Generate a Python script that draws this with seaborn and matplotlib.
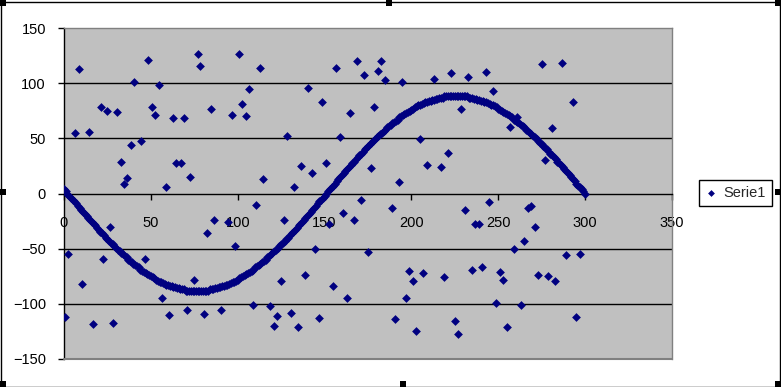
import matplotlib
matplotlib.use("Agg")
import matplotlib.pyplot as plt
from matplotlib.patches import Rectangle
import seaborn as sns
import pandas as pd

# ---- data: sine-like curve ----
curve_x = list(range(0, 301))
curve_y = [4, 2,
    0, -2, -4, -6, -7, -9, -11, -13, -15, -17,
    -19, -20, -22, -24, -26, -28, -29, -31, -33, -35,
    -36, -38, -40, -41, -43, -45, -46, -48, -49, -51,
    -52, -54, -55, -57, -58, -60, -61, -62, -64, -65,
    -66, -67, -69, -70, -71, -72, -73, -74, -75, -76,
    -77, -78, -79, -80, -80, -81, -82, -83, -83, -84,
    -84, -85, -85, -86, -86, -87, -87, -87, -88, -88,
    -88, -88, -88, -88, -88, -88, -88, -88, -88, -88,
    -88, -88, -87, -87, -87, -86, -86, -85, -85, -84,
    -84, -83, -83, -82, -81, -80, -80, -79, -78, -77,
    -76, -75, -74, -73, -72, -71, -70, -69, -67, -66,
    -65, -64, -62, -61, -60, -58, -57, -55, -54, -52,
    -51, -49, -48, -46, -45, -43, -41, -40, -38, -36,
    -35, -33, -31, -29, -28, -26, -24, -22, -20, -19,
    -17, -15, -13, -11, -9, -7, -6, -4, -2, 0,
    2, 4, 6, 7, 9, 11, 13, 15, 17,
    19, 20, 22, 24, 26, 28, 29, 31, 33, 35,
    36, 38, 40, 41, 43, 45, 46, 48, 49, 51,
    52, 54, 55, 57, 58, 60, 61, 62, 64, 65,
    66, 67, 69, 70, 71, 72, 73, 74, 75, 76,
    77, 78, 79, 80, 80, 81, 82, 83, 83, 84,
    84, 85, 85, 86, 86, 87, 87, 87, 88, 88,
    88, 88, 88, 88, 88, 88, 88, 88, 88, 88,
    88, 88, 87, 87, 87, 86, 86, 85, 85, 84,
    84, 83, 83, 82, 81, 80, 80, 79, 78, 77,
    76, 75, 74, 73, 72, 71, 70, 69, 67, 66,
    65, 64, 62, 61, 60, 58, 57, 55, 54, 52,
    51, 49, 48, 46, 45, 43, 41, 40, 38, 36,
    35, 33, 31, 29, 28, 26, 24, 22, 20, 19,
    17, 15, 13, 11, 9, 7, 6, 4, 2, 0]

# ---- data: scattered points ----
scatter_x = [8.8, 6.5, 14.6, 21.1, 24.9, 30.7, 32.6, 38.7, 36.4, 34.7,
             40.5, 44.5, 48.5, 50.8, 52.6, 54.9, 58.9, 62.9, 64.7, 67.2,
             68.9, 72.7, 77.0, 78.5, 84.8, 96.9, 100.9, 102.6, 105.0, 106.7,
             113.0, 114.7, 156.8, 168.9, 172.9, 182.7, 181.0, 185.0, 194.8, 213.2,
             223.0, 232.6, 140.6, 148.7, 164.7, 178.6, 128.6, 159.1, 205.1, 228.7,
             221.2, 132.6, 136.6, 143.0, 151.0, 176.9, 193.0, 209.2, 217.2, 243.1,
             275.4, 286.9, 247.2, 293.2, 261.0, 257.0, 281.1, 277.1,
             2.5, 0.8, 10.6, 16.9, 22.6, 26.7, 28.4, 46.8, 56.6, 60.6,
             71.0, 75.0, 80.8, 82.5, 86.5, 90.6, 94.6, 98.6, 109.0, 110.7,
             126.8, 152.7, 160.8, 167.1, 171.2, 189.0, 231.0, 144.7, 175.2, 125.1,
             138.9, 155.0, 163.1, 198.8, 201.1, 206.8, 218.9, 197.1, 118.8, 122.8,
             121.1, 130.9, 134.9, 146.9, 190.7, 202.8, 225.3, 227.0, 244.8, 236.4,
             238.7, 267.3, 269.0, 271.3, 265.0, 259.2, 289.2, 297.2, 235.1, 240.8,
             251.2, 252.9, 273.1, 278.8, 282.8, 248.9, 263.3, 255.2, 294.9]
scatter_y = [112.6, 54.6, 55.5, 78.1, 74.8, 73.9, 28.3, 44.0, 14.0, 8.3,
             100.8, 47.6, 120.7, 78.1, 70.9, 98.1, 5.9, 68.2, 27.4, 27.4,
             68.2, 15.0, 126.2, 115.3, 76.3, 70.9, 126.2, 80.9, 70.0, 94.5,
             113.5, 12.9, 113.5, 120.1, 107.4, 120.1, 111.0, 102.9, 100.8, 103.8,
             109.0, 105.3, 95.6, 83.0, 72.7, 78.1, 52.1, 51.0, 49.4, 76.3,
             36.4, 5.9, 24.7, 18.3, 27.4, 23.1, 10.2, 25.6, 24.0, 109.9,
             117.1, 118.0, 92.7, 83.0, 69.1, 60.0, 59.4, 30.4,
             -54.9, -112.3, -82.3, -118.3, -59.4, -30.4, -117.7, -59.4, -95.0, -110.2,
             -105.6, -78.4, -109.5, -36.1, -24.0, -105.6, -25.8, -47.6, -101.1, -10.4,
             -24.3, -27.9, -17.7, -24.3, -6.2, -13.1, -15.2, -50.6, -53.0, -79.3,
             -74.2, -84.1, -95.0, -70.3, -79.3, -72.1, -76.0, -95.0, -102.0, -111.1,
             -120.4, -108.6, -121.3, -113.1, -114.0, -124.9, -115.9, -127.6, -8.0, -27.9,
             -27.9, -13.4, -11.0, -30.6, -43.3, -50.0, -56.0, -55.1, -69.6, -66.9,
             -71.4, -78.7, -74.2, -75.1, -79.6, -99.5, -101.4, -121.3, -112.2]

x_ticks = [0, 50, 100, 150, 200, 250, 300, 350]
y_ticks = [-150, -100, -50, 0, 50, 100, 150]
series_name = "Serie1"

df = pd.DataFrame({"x": curve_x + scatter_x, "y": curve_y + scatter_y})

sns.set_style("white")
plt.rcParams["font.family"] = ["Liberation Sans", "DejaVu Sans"]

W, H = 781, 387
fig = plt.figure(figsize=(W / 100, H / 100), dpi=100)
ax = fig.add_axes([64 / W, 1 - 359 / H, (672 - 64) / W, (359 - 28) / H])
ax.set_facecolor("#C0C0C0")

# horizontal gridlines (black) at inner ticks
for v in y_ticks:
    if v not in (y_ticks[0], y_ticks[-1], 0):
        ax.axhline(v, color="black", lw=1.0, zorder=0.5)

sns.scatterplot(data=df, x="x", y="y", marker="D", color="#000080",
                s=20, linewidth=0, label=series_name, ax=ax, zorder=3)

ax.set_xlim(x_ticks[0], x_ticks[-1])
ax.set_ylim(y_ticks[0], y_ticks[-1])
ax.set_xticks(x_ticks)
ax.set_yticks(y_ticks)
ax.set_xlabel("")
ax.set_ylabel("")

# spines
ax.spines["left"].set_color("black")
ax.spines["left"].set_linewidth(1.0)
ax.spines["bottom"].set_position(("data", 0))
ax.spines["bottom"].set_color("black")
ax.spines["bottom"].set_linewidth(1.0)
ax.spines["top"].set_color("#808080")
ax.spines["right"].set_color("#808080")
ax.spines["top"].set_linewidth(1.0)
ax.spines["right"].set_linewidth(1.0)
ax.axhline(y_ticks[0], color="#808080", lw=1.5, clip_on=False, zorder=4)

ax.tick_params(axis="y", direction="out", length=4, width=1, pad=9,
               labelsize=10.5, colors="black", left=True)
ax.tick_params(axis="x", direction="out", length=4, width=1, pad=12,
               labelsize=10.5, colors="black", bottom=True)

leg = ax.legend(loc="center left", bbox_to_anchor=(699 / W, 1 - 193 / H),
                bbox_transform=fig.transFigure, frameon=True, fancybox=False,
                edgecolor="black", framealpha=1, fontsize=10.5,
                handlelength=0.8, handletextpad=0.5, borderpad=0.4,
                borderaxespad=0)
leg.get_frame().set_linewidth(1.0)
for h in leg.legend_handles:
    h.set_sizes([12])

# figure border and selection handles
fig.add_artist(Rectangle((0.5 / W, 0.5 / H), 1 - 1.5 / W, 1 - 2.5 / H,
                         transform=fig.transFigure, fill=False,
                         edgecolor="black", lw=1.0))
hs = 6
for (px, py) in [(0, 0), (386, 0), (775, 0), (0, 189), (775, 189),
                 (0, 381), (400, 381), (775, 381)]:
    fig.add_artist(Rectangle((px / W, 1 - (py + hs) / H), hs / W, hs / H,
                             transform=fig.transFigure, color="black", lw=0))

fig.savefig("out.png", dpi=100, facecolor="white")
